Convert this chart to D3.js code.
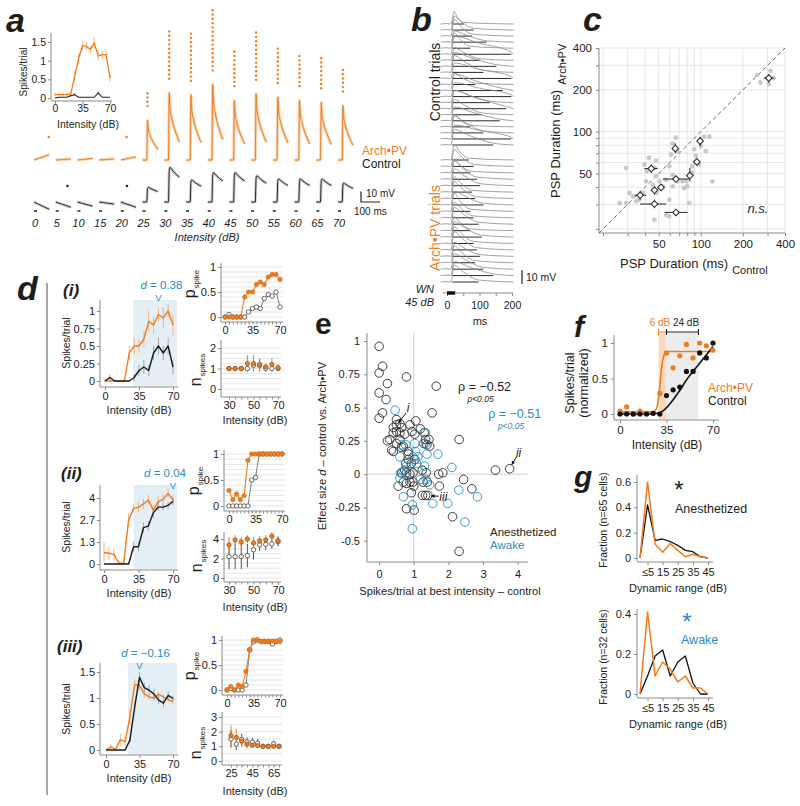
<!DOCTYPE html>
<html><head><meta charset="utf-8">
<script src="https://cdn.jsdelivr.net/npm/d3@7/dist/d3.min.js"></script>
<style>html,body{margin:0;padding:0;background:#fff;}svg{display:block;}</style>
</head><body>
<script>
// ===================== DATA =====================
// ---- Panel a ----
const aIntensity = [0,5,10,15,20,25,30,35,40,45,50,55,60,65,70];
const aInsetArch    = [0.09,0.09,0.09,0.09,0.10,0.58,1.05,1.40,1.38,1.30,1.47,1.12,1.16,1.16,0.54];
const aInsetArchErr = [0.05,0.05,0.05,0.05,0.05,0.15,0.15,0.12,0.10,0.10,0.15,0.12,0.12,0.10,0.10];
const aInsetCtrl    = [0.00,0.02,0.02,0.02,0.06,0.09,0.02,0.02,0.02,0.02,0.02,0.14,0.02,0.02,0.02];
const aInsetCtrlErr = [0,0,0,0,0.03,0.04,0,0,0,0,0,0.05,0,0,0];
const aTplTime = [0,22,26,30,38,50,62,72,80];            // ms
const aTplArch = [0,0,1,0.78,0.64,0.5,0.4,0.32,0.27];
const aTplCtrl = [0,0,0.9,1,0.95,0.87,0.8,0.75,0.72];
const aTplSub  = [0,0.28,0.33,0.38,0.48,0.62,0.77,0.9,1];
const aArchAmp = [5,1,1.5,1,3,38,64,62,72,57,63,60,57,55,52];   // mV
const aCtrlAmp = [-7,-5,-4,-2,-5,14,33,21,28,28,25,22,22,22,18];
const aArchSpikes = [0,0,0,0,0,4,12,12,15,9,12,9,8,8,6];
const aArchStray = [[0,78],[20,30]];
const aCtrlStray = [[5,62],[20,32]];
const aInsetYTicks = [0,0.5,1,1.5];
const aInsetXTicks = [0,35,70];

// ---- Panel b ----
const bCtrlDur = [40,70,65,110,60,195,90,140,100,190,75,160,195,120,170,95,150,60,100,195,130];
const bCtrlAmp = [9,10,12,8,11,13,9,10,12,11,8,12,10,9,13,11,10,9,12,10,11];
const bArchDur = [55,70,60,80,90,65,75,100,60,70,85,60,95,70,80,90,75,100,130,85];
const bArchAmp = [11,12,10,13,12,11,12,10,13,11,12,10,11,12,13,10,12,11,10,12];
const bTicks = [0,50,100,150,200];
const bTickLabels = ["0","","100","","200"];
const bStim = [0,25];

// ---- Panel c ----
const cDotX = [253,267,315,306,332,29.3,42.5,47.8,39.5,41,46.6,47.8,40.6,45.3,50.5,56.4,62.9,66.4,62.9,68.2,61.2,59.5,53.4,68.2,74,79,87,87,92,97,89.6,100,108.5,115,105.6,121,80,82.6,30.9,32.7,36.4,38.5,26.3,29.3,34.5,46.6,56.4,59.5,62.9,76,47.8,59.5];
const cDotY = [255,226,274,220,243,55,65,62,58,52,55,47.9,44,41.6,44,45,49,90.5,82,72.5,68.6,56.5,40.5,44,44,44,50.5,56.5,67,58,74.7,78.8,72.5,92,92,44,40.5,30.7,36.3,34.3,32.5,36.3,30.7,30.7,31.6,23.3,25.3,24.6,40.5,39.4,36.3,32.5];
const cDiamX   = [306,65.7,98.9,44.2,93.7,83.5,66.4,51.9,46.6,36.8,46.6,66.4];
const cDiamY   = [243,75.8,85.6,54.3,60.7,48.4,45.7,39.8,37.9,34.9,30.2,26.3];
const cDiamXlo = [282,63,96,39.5,91,78.2,53.4,50,45,33.6,36.8,55.2];
const cDiamXhi = [332,68,102,49.2,96,88.2,82.6,54,48,40.6,56.4,80.5];
const cDiamYlo = [226,69.8,78.8,50.6,58,44,44,38.5,35.3,32.5,28.2,24.9];
const cDiamYhi = [260,82.4,92,58,63,55,47.5,41,40.5,37.3,32.5,27.4];
const cGrid = [20,30,40,50,60,70,80,90,100,200,300,400];
const cTickLabels = [50,100,200,400];

// ---- Panel d ----
const dIntensity = [0,5,10,15,20,25,30,35,40,45,50,55,60,65,70];
const d1Arch    = [0,0,0,0,0,0.4,0.5,0.5,0.6,0.85,0.8,0.95,0.9,1.0,0.8];
const d1ArchErr = [0,0,0,0,0,0.1,0.12,0.1,0.12,0.15,0.12,0.1,0.15,0.1,0.15];
const d1Ctrl    = [0,0.05,0,0,0,0,0.05,0.15,0.2,0.15,0.4,0.5,0.4,0.5,0.2];
const d1CtrlErr = [0.02,0.04,0,0,0,0,0.05,0.08,0.1,0.08,0.1,0.12,0.1,0.12,0.1];
const d1PArch = [0,0,0,0,0,0.4,0.5,0.5,0.65,0.7,0.65,0.8,0.85,0.85,0.75];
const d1PCtrl = [0,0.05,0,0,0,0,0.1,0.17,0.2,0.17,0.37,0.45,0.42,0.5,0.2];
const d1NInt = [30,35,40,45,50,55,60,65,70];
const d1NArch    = [1,1,1,1.24,1.24,1.2,1.08,1.2,1.05];
const d1NArchErr = [0,0,0,0.4,0.4,0.3,0.15,0.3,0.15];
const d1NCtrl    = [1,1,1,1,1.15,1.15,1,1,1];
const d1NCtrlErr = [0,0,0,0.1,0.3,0.3,0.15,0.15,0.1];

const d2Arch    = [0.7,0.65,0.6,0.05,0.05,2.67,3.37,3.44,3.64,3.88,3.27,3.78,3.92,4.28,3.88];
const d2ArchErr = [0.6,0.4,0.4,0.1,0.1,0.4,0.3,0.3,0.3,0.3,0.3,0.3,0.3,0.3,0.3];
const d2Ctrl    = [0,0,0,0,0,0,1.05,1.05,2.2,2.3,3.1,3.45,3.45,3.55,3.8];
const d2CtrlErr = [0,0,0,0,0,0,0.3,0.3,0.3,0.3,0.3,0.2,0.2,0.2,0.2];
const d2PArch = [0.3,0.12,0.23,0.12,0.2,0.88,1,1,1,1,1,1,1,1,1];
const d2PCtrl = [0,0,0,0,0,0,0.5,0.55,1,1,1,1,1,1,1];
const d2NInt = [30,35,40,45,50,55,60,65,70];
const d2NArch    = [3.4,3.9,3.7,4.0,3.6,3.8,3.9,4.3,3.8];
const d2NArchErr = [0.8,0.5,0.5,0.4,0.6,0.5,0.5,0.4,0.5];
const d2NCtrl    = [2.2,2.2,2.2,2.3,2.9,3.4,3.45,3.5,3.75];
const d2NCtrlErr = [1.3,1.3,1.3,1.2,1.0,0.6,0.6,0.5,0.5];

const d3Arch    = [0,0.06,0.01,0.2,0.16,0.64,1.26,1.24,1.08,1.02,1.0,1.07,1.02,0.97,0.93];
const d3ArchErr = [0,0.05,0,0.12,0.1,0.15,0.1,0.1,0.08,0.06,0.05,0.05,0.05,0.05,0.05];
const d3Ctrl    = [0,0,0,0,0,0.19,0.83,1.4,1.2,1.15,1.08,0.96,0.9,1.05,0.99];
const d3CtrlErr = [0,0,0,0,0,0.05,0.1,0.1,0.1,0.1,0.1,0.08,0.08,0.08,0.05];
const d3PArch = [0,0.07,0,0.1,0.07,0.37,0.81,1,1,0.97,0.98,0.98,0.98,0.98,0.97];
const d3PCtrl = [0,0.03,0,0,0,0.1,0.8,0.97,1,0.97,0.97,0.97,0.92,0.97,1];
const d3NInt = [25,30,35,40,45,50,55,60,65,70];
const d3NArch    = [1.73,1.6,1.35,1.15,1.08,1.05,1.0,1.0,1.0,1.0];
const d3NArchErr = [0.7,0.6,0.4,0.3,0.2,0.1,0.05,0.05,0.05,0.05];
const d3NCtrl    = [1.5,1.15,1.47,1.3,1.28,1.22,1.0,1.0,1.18,1.0];
const d3NCtrlErr = [0.6,0.4,0.4,0.3,0.3,0.3,0.1,0.1,0.2,0.1];

const dTags = ["(i)","(ii)","(iii)"];
const dBest = [55,70,35];
const dEffect = ["0.38","0.04","\u22120.16"];
const dShadeFrom = [29,30,23];
const dMainYTicks = [[0,0.25,0.5,0.75,1],[0,1.333,2.667,4],[0,0.5,1,1.5]];
const dMainYLabels = [["0","0.25","0.5","0.75","1"],["0","1.3","2.7","4"],["0","0.5","1","1.5"]];
const dPGrid = [0,0.1,0.2,0.3,0.4,0.5,0.6,0.7,0.8,0.9,1];
const dNYTicks = [[0,1,2],[0,2,4],[0,1,2,3]];
const dNGrid = [[0,0.25,0.5,0.75,1,1.25,1.5,1.75,2],[0,0.5,1,1.5,2,2.5,3,3.5,4],[0,0.5,1,1.5,2,2.5,3]];
const dNXLabels = [[30,50,70],[30,50,70],[25,45,65]];

// ---- Panel e ----
const eAnesX = [0,0.1,0,0.24,0.79,0,0.2,0.1,0,1.65,1.53,0.5,0.5,0.6,0.41,0.65,0.5,0.41,0.6,0.74,0.31,0.24,0.6,0.5,0.36,0.65,0.41,0.7,0.89,1.06,0.95,1.03,1.19,1.3,1.34,1.44,1.29,1.46,1.38,0.84,0.84,0.84,0.77,0.93,1.03,0.74,0.65,0.79,0.89,0.98,0.7,0.89,0.98,0.79,0.55,1.0,1.25,1.27,1.36,1.39,1.25,1.34,1.41,0.93,0.79,1.01,1.72,1.84,2.31,1.74,2.44,2.68,2.12,2.31,3.36,3.77];
const eAnesY = [0.96,0.81,0.76,0.68,0.73,0.61,0.56,0.46,0.42,0.66,0.46,0.41,0.37,0.38,0.35,0.35,0.32,0.31,0.31,0.3,0.26,0.25,0.26,0.23,0.18,0.2,0.17,0.21,0.37,0.4,0.32,0.3,0.34,0.31,0.26,0.26,0.23,0.21,0.22,0.17,0.15,0.11,0.08,0.08,0.11,0.03,0.01,0.01,0,0.01,-0.06,-0.06,-0.06,-0.07,-0.09,-0.09,0.03,-0.06,0.01,-0.06,-0.16,-0.16,-0.16,-0.14,-0.26,-0.27,0,0.01,0.26,-0.09,-0.04,-0.11,-0.32,-0.58,0.03,0.04];
const eAwakeX = [0.46,0.65,0.6,0.6,0.7,0.96,0.96,1.03,1.06,0.98,1.08,1.12,1.34,1.34,1.38,1.31,1.36,1.46,1.55,1.7,2.1,1.98,2.3,2.48,2.84,0.7,0.79,1.12,1.19,0.77,0.62];
const eAwakeY = [0.48,0.22,0.13,-0.03,-0.17,-0.23,-0.41,0.23,0.17,0.13,0.08,0.13,0.23,0.31,0.15,0.06,-0.04,-0.08,-0.22,0.15,0.05,-0.22,-0.12,-0.36,-0.17,0.02,0.06,0.05,-0.04,0.22,0.01];
const eYTicks = [1,0.75,0.5,0.25,0,-0.25,-0.5];
const eYLabels = ["1","0.75","0.5","0.25","0","-0.25","-0.5"];
const eXTicks = [0,1,2,3,4];
const eRho = ["\u03C1 = \u22120.52","\u03C1 = \u22120.51"];

// ---- Panel f ----
const fInt  = [0,5,10,15,20,25,30,35,40,45,50,55,60,65,70];
const fArch = [0.04,0.1,0.0,0.04,0.01,0.01,0.29,0.86,0.65,0.82,0.98,0.79,1.0,0.96,0.9];
const fCtrl = [0,0,0,0,0,0.01,0,0.26,0.34,0.38,0.6,0.6,0.86,0.79,1.0];
const fFitArchX = [0,24,26,27,28,29,30,31,32,33,34,36,40,70];
const fFitArchY = [0.03,0.03,0.04,0.06,0.11,0.22,0.4,0.6,0.74,0.82,0.86,0.88,0.88,0.88];
const fFitCtrlX = [0,25,28,31,34,37,40,43,46,49,52,55,58,61,64,67,70];
const fFitCtrlY = [0,0,0.01,0.03,0.07,0.13,0.2,0.28,0.36,0.45,0.53,0.6,0.67,0.74,0.81,0.88,0.95];
const fArchRange = [29,35];
const fCtrlRange = [35,59];

// ---- Panel g ----
const gBins = [0,5,10,15,20,25,30,35,40,45];
const gAnesCtrl  = [0,0.42,0.14,0.15,0.13,0.1,0.06,0.05,0.01,0];
const gAnesArch  = [0,0.6,0.11,0.045,0.115,0.06,0.01,0.03,0.01,0];
const gAwakeCtrl = [0,0.09,0.19,0.22,0.09,0.16,0.19,0.055,0,0];
const gAwakeArch = [0,0.41,0.09,0.16,0.125,0.06,0.09,0.03,0.03,0];
const gXTicks = [5,15,25,35,45];
const gXLabels = ["\u22645","15","25","35","45"];

// ===================== DRAWING =====================
const FONT = "'Liberation Sans', Arial, Helvetica, sans-serif";
const ORANGE = "#f07c1e", ORANGE_L = "#f6b27c", BLUE = "#2c8cc2", AX = "#8a8a8a", GRID = "#e6e6e6", TXT = "#1d1d1b";
const svg = d3.select("body").append("svg").attr("width",800).attr("height",806).style("font-family",FONT);

function text(x,y,s,o={}){
  const t = svg.append("text").attr("x",x).attr("y",y).text(s)
    .attr("font-size",o.size||11).attr("fill",o.fill||TXT).attr("text-anchor",o.anchor||"start");
  if(o.italic) t.attr("font-style","italic");
  if(o.bold) t.attr("font-weight","bold");
  if(o.rotate) t.attr("transform",`rotate(-90,${x},${y})`);
  return t;
}
function drawAxis(orient, scale, pos, ext, vals, labels, o={}){
  const ax = (orient==="left"?d3.axisLeft:d3.axisBottom)(scale).tickValues(vals)
    .tickSize(o.tick||3).tickSizeOuter(0).tickPadding(o.pad==null?2:o.pad)
    .tickFormat((d,i)=> labels ? (labels[i]==null?"":labels[i]) : "");
  const g = svg.append("g").attr("transform", orient==="left"?`translate(${pos},0)`:`translate(0,${pos})`).call(ax);
  g.select(".domain").remove();
  if(orient==="left") g.append("line").attr("y1",ext[0]).attr("y2",ext[1]).attr("stroke",AX);
  else g.append("line").attr("x1",ext[0]).attr("x2",ext[1]).attr("stroke",AX);
  g.selectAll(".tick line").attr("stroke",AX);
  g.selectAll(".tick text").attr("font-family",FONT).attr("font-size",o.size||11).attr("fill",TXT)
    .attr("font-style",o.italic?"italic":null);
  return g;
}
function linePath(xs, ys, sx, sy, stroke, width, curve){
  return svg.append("path").datum(xs.map((x,i)=>[x,ys[i]]))
    .attr("d", d3.line().x(d=>sx(d[0])).y(d=>sy(d[1])).curve(curve||d3.curveLinear))
    .attr("fill","none").attr("stroke",stroke).attr("stroke-width",width||1).attr("stroke-linejoin","round");
}
function errBars(xs, ys, es, sx, sy, color, w){
  svg.append("g").selectAll("line").data(xs.map((x,i)=>[x,ys[i],es[i]]).filter(d=>d[2]>0)).enter().append("line")
    .attr("x1",d=>sx(d[0])).attr("x2",d=>sx(d[0])).attr("y1",d=>sy(d[1]-d[2])).attr("y2",d=>sy(d[1]+d[2]))
    .attr("stroke",color).attr("stroke-width",w||1);
}
function dots(xs, ys, sx, sy, r, fill, stroke, sw){
  svg.append("g").selectAll("circle").data(xs.map((x,i)=>[x,ys[i]])).enter().append("circle")
    .attr("cx",d=>sx(d[0])).attr("cy",d=>sy(d[1])).attr("r",r)
    .attr("fill",fill).attr("stroke",stroke||"none").attr("stroke-width",sw||1);
}
function subLabel(x,y,main,sub,size,subSize){
  const t = svg.append("text").attr("transform",`translate(${x},${y}) rotate(-90)`).attr("text-anchor","middle").attr("fill",TXT);
  t.append("tspan").attr("font-size",size).text(main);
  t.append("tspan").attr("font-size",subSize).attr("dy",size*0.22).attr("dx",1).text(sub);
  return t;
}

// ---------- Panel labels ----------
text(6,32,"a",{size:34,bold:true,italic:true});
text(411,31,"b",{size:34,bold:true,italic:true});
text(583,31,"c",{size:34,bold:true,italic:true});
text(17,300,"d",{size:34,bold:true,italic:true});
text(315,334,"e",{size:30,bold:true});
text(574,337,"f",{size:30,bold:true,italic:true});
text(574,487,"g",{size:30,bold:true,italic:true});

// ---------- Panel a : inset ----------
{
  const x = d3.scaleLinear().domain([0,70]).range([55,110]);
  const y = d3.scaleLinear().domain([0,1.5]).range([98,42]);
  drawAxis("left",y,51,[33,100],aInsetYTicks,["0","0.5","1","1.5"],{size:10.5});
  drawAxis("bottom",x,101,[51,112],aInsetXTicks,["0","35","70"],{size:10.5,pad:1});
  errBars(aIntensity,aInsetArch,aInsetArchErr,x,y,ORANGE_L,1);
  errBars(aIntensity,aInsetCtrl,aInsetCtrlErr,x,y,"#aaa",1);
  linePath(aIntensity,aInsetArch,x,y,ORANGE,1.3);
  linePath(aIntensity,aInsetCtrl,x,y,"#222",1.1);
  text(27,72,"Spikes/trial",{size:10,anchor:"middle",rotate:true});
  text(88,128,"Intensity (dB)",{size:10.5,anchor:"middle"});
}
// ---------- Panel a : traces ----------
{
  const x = d3.scaleLinear().domain([0,70]).range([35,339]);
  const t = d3.scaleLinear().domain([0,100]).range([0,19]);
  const v = d3.scaleLinear().domain([0,10]).range([0,-10.5]);
  const archBase = 160, ctrlBase = 202;
  const ln = d3.line().curve(d3.curveMonotoneX);
  aIntensity.forEach((db,i)=>{
    const x0 = x(db)-1;
    const sub = db < 25;
    const tA = sub ? aTplSub : aTplArch, tC = sub ? aTplSub : aTplCtrl;
    const pA = aTplTime.map((tt,k)=>[x0+t(tt), archBase+v(aArchAmp[i]*tA[k])]);
    const pC = aTplTime.map((tt,k)=>[x0+t(tt), ctrlBase+v(aCtrlAmp[i]*tC[k])]);
    svg.append("path").attr("d",ln(pA)).attr("fill","none").attr("stroke","#fbd3b1").attr("stroke-width",3);
    svg.append("path").attr("d",ln(pA)).attr("fill","none").attr("stroke",ORANGE).attr("stroke-width",1);
    svg.append("path").attr("d",ln(pC)).attr("fill","none").attr("stroke","#cfcfcf").attr("stroke-width",3);
    svg.append("path").attr("d",ln(pC)).attr("fill","none").attr("stroke","#222").attr("stroke-width",1);
    const px = x0 + t(26), py = archBase + v(aArchAmp[i]);
    svg.append("g").selectAll("circle").data(d3.range(aArchSpikes[i])).enter().append("circle")
      .attr("cx",px).attr("cy",k=>py-14-k*4.3).attr("r",1.2).attr("fill",ORANGE);
    svg.append("line").attr("x1",x(db)-1).attr("x2",x(db)+2).attr("y1",211).attr("y2",211).attr("stroke","#222").attr("stroke-width",1.5);
    text(x(db),227,String(db),{size:11,italic:true,anchor:"middle"});
  });
  aArchStray.forEach(s=>svg.append("circle").attr("cx",x(s[0])-1+t(s[1])).attr("cy",archBase-23).attr("r",1.3).attr("fill",ORANGE));
  aCtrlStray.forEach(s=>svg.append("circle").attr("cx",x(s[0])-1+t(s[1])).attr("cy",ctrlBase-16).attr("r",1.3).attr("fill","#222"));
  text(207,241,"Intensity (dB)",{size:11,italic:true,anchor:"middle"});
  text(362,155,"Arch\u2022PV",{size:12,fill:ORANGE});
  text(362,168,"Control",{size:12});
  svg.append("path").attr("d",`M361,${202+v(10)}V202H${361+t(100)}`).attr("fill","none").attr("stroke","#222").attr("stroke-width",1.2);
  text(366,197,"10 mV",{size:10});
  text(354,215,"100 ms",{size:10});
}

// ---------- Panel b ----------
{
  const x = d3.scaleLinear().domain([0,200]).range([447,512]);
  const v = d3.scaleLinear().domain([0,10]).range([0,-14]);
  const yC = d3.scaleLinear().domain([0,bCtrlDur.length-1]).range([24,145]);
  const yA = d3.scaleLinear().domain([0,bArchDur.length-1]).range([160,282]);
  const ln = d3.line().x(d=>x(d[0])).curve(d3.curveMonotoneX);
  function trial(base, dur, amp){
    const end = Math.min(12+dur,198);
    const pts = [[-20,0],[0,0.3],[12,0],[22,amp],[12+dur*0.45,amp*0.6],[end,amp*0.12],[205,0]];
    svg.append("path").attr("d",ln.y(d=>base+v(d[1]))(pts)).attr("fill","none").attr("stroke","#8c8c8c").attr("stroke-width",0.8);
    svg.append("line").attr("x1",x(16)).attr("x2",x(end)).attr("y1",base).attr("y2",base).attr("stroke","#2a2a2a").attr("stroke-width",1);
  }
  bCtrlDur.forEach((d,i)=>trial(yC(i),d,bCtrlAmp[i]));
  bArchDur.forEach((d,i)=>trial(yA(i),d,bArchAmp[i]));
  text(440,82,"Control trials",{size:14,anchor:"middle",rotate:true});
  text(440,228,"Arch\u2022PV trials",{size:14,anchor:"middle",rotate:true,fill:ORANGE});
  svg.append("line").attr("x1",522).attr("x2",522).attr("y1",284).attr("y2",284+v(10)).attr("stroke","#222").attr("stroke-width",1.2);
  text(526,281,"10 mV",{size:10.5});
  drawAxis("bottom",x,293,[443,513],bTicks,bTickLabels,{size:10.5,pad:6,tick:3});
  svg.append("line").attr("x1",x(bStim[0])).attr("x2",x(bStim[1])).attr("y1",293).attr("y2",293).attr("stroke","#111").attr("stroke-width",3.5);
  text(434,293,"WN",{size:11,italic:true,anchor:"end"});
  text(434,306,"45 dB",{size:11,italic:true,anchor:"end"});
  text(480,325,"ms",{size:11,anchor:"middle"});
}

// ---------- Panel c ----------
{
  const x = d3.scaleLog().domain([18.7,400]).range([599,785]);
  const y = d3.scaleLog().domain([18.7,400]).range([233,48]);
  const g = svg.append("g");
  g.selectAll("line.v").data(cGrid).enter().append("line").attr("x1",d=>x(d)).attr("x2",d=>x(d)).attr("y1",48).attr("y2",233).attr("stroke",GRID);
  g.selectAll("line.h").data(cGrid).enter().append("line").attr("y1",d=>y(d)).attr("y2",d=>y(d)).attr("x1",599).attr("x2",785).attr("stroke",GRID);
  const lab = cGrid.map(d=>cTickLabels.includes(d)?String(d):"");
  drawAxis("left",y,599,[48,233],cGrid,lab,{size:11.5,tick:3,pad:4});
  drawAxis("bottom",x,233,[599,785],cGrid,lab,{size:11.5,tick:3,pad:4});
  svg.append("line").attr("x1",x(18.7)).attr("y1",y(18.7)).attr("x2",x(400)).attr("y2",y(400))
    .attr("stroke","#666").attr("stroke-dasharray","4,3").attr("stroke-width",1);
  dots(cDotX,cDotY,x,y,2.4,"#c9c9c9");
  const eg = svg.append("g");
  cDiamX.forEach((d,i)=>{
    eg.append("line").attr("x1",x(cDiamXlo[i])).attr("x2",x(cDiamXhi[i])).attr("y1",y(cDiamY[i])).attr("y2",y(cDiamY[i])).attr("stroke","#222");
    eg.append("line").attr("y1",y(cDiamYlo[i])).attr("y2",y(cDiamYhi[i])).attr("x1",x(d)).attr("x2",x(d)).attr("stroke","#222");
  });
  svg.append("g").selectAll("path").data(cDiamX.map((d,i)=>[d,cDiamY[i]])).enter().append("path")
    .attr("d",d3.symbol().type(d3.symbolSquare).size(22))
    .attr("transform",d=>`translate(${x(d[0])},${y(d[1])}) rotate(45)`)
    .attr("fill","#fff").attr("stroke","#222").attr("stroke-width",1);
  text(758,213,"n.s.",{size:13,italic:true,anchor:"middle"});
  const yl = svg.append("text").attr("transform","translate(560,198) rotate(-90)").attr("fill",TXT);
  yl.append("tspan").attr("font-size",13).text("PSP Duration (ms)");
  yl.append("tspan").attr("font-size",11).attr("dx",5).attr("dy",6).text("Arch\u2022PV");
  const xl = svg.append("text").attr("transform","translate(620,268)").attr("fill",TXT);
  xl.append("tspan").attr("font-size",13).text("PSP Duration (ms)");
  xl.append("tspan").attr("font-size",11).attr("dx",4).attr("dy",6).text("Control");
}

// ---------- Panel d ----------
svg.append("line").attr("x1",47).attr("x2",47).attr("y1",283).attr("y2",795).attr("stroke","#777").attr("stroke-width",1.3);
{
  const main = [
    {arch:d1Arch,archErr:d1ArchErr,ctrl:d1Ctrl,ctrlErr:d1CtrlErr},
    {arch:d2Arch,archErr:d2ArchErr,ctrl:d2Ctrl,ctrlErr:d2CtrlErr},
    {arch:d3Arch,archErr:d3ArchErr,ctrl:d3Ctrl,ctrlErr:d3CtrlErr}];
  const pData = [[d1PArch,d1PCtrl],[d2PArch,d2PCtrl],[d3PArch,d3PCtrl]];
  const nData = [
    {x:d1NInt,a:d1NArch,ae:d1NArchErr,c:d1NCtrl,ce:d1NCtrlErr},
    {x:d2NInt,a:d2NArch,ae:d2NArchErr,c:d2NCtrl,ce:d2NCtrlErr},
    {x:d3NInt,a:d3NArch,ae:d3NArchErr,c:d3NCtrl,ce:d3NCtrlErr}];
  const LM = [
    {xr:[105,173], y0:381, y1:311, axY:387, top:300, tagY:296, dY:289, vY:301, labY:343, tagX:63},
    {xr:[104,173], y0:564, y1:498, axY:570, top:485, tagY:479, dY:477, vY:489, labY:527, tagX:61},
    {xr:[106,173], y0:750, y1:672, axY:755, top:663, tagY:652, dY:657, vY:669, labY:709, tagX:57}];
  const dXOff = [3,-8,6];
  const LP = [
    {ax:221, y0:317, y1:267, axY:322, xr:[225,280], lab:[195,284]},
    {ax:224, y0:506, y1:454, axY:511, xr:[229,282], lab:[199,481]},
    {ax:222, y0:690, y1:640, axY:695, xr:[227,280], lab:[195,666]}];
  const LN = [
    {ax:221, y0:389, y1:348, yTop:340, axY:397, xr:[229,278], lab:[201,370], iy:424},
    {ax:224, y0:578, y1:539, yTop:532, axY:582, xr:[229,278], lab:[202,556], iy:611},
    {ax:222, y0:761, y1:717, yTop:712, axY:765, xr:[231,279], lab:[201,743], iy:795}];
  const yTopVal = [1.0,4,1.5];
  for(let r=0;r<3;r++){
    const L = LM[r], D = main[r];
    const x = d3.scaleLinear().domain([0,70]).range(L.xr);
    const y = d3.scaleLinear().domain([0,yTopVal[r]]).range([L.y0, L.y1]);
    svg.append("rect").attr("x",x(dShadeFrom[r])).attr("y",L.top).attr("width",177-x(dShadeFrom[r])).attr("height",L.axY-L.top-1).attr("fill","#e3eef5");
    drawAxis("left",y,100,[L.top,L.axY],dMainYTicks[r],dMainYLabels[r],{size:11,pad:2});
    drawAxis("bottom",x,L.axY,[100,178],[0,35,70],["0","35","70"],{size:11,pad:2});
    errBars(dIntensity,D.arch,D.archErr,x,y,ORANGE_L,1);
    errBars(dIntensity,D.ctrl,D.ctrlErr,x,y,"#a5a5a5",1);
    linePath(dIntensity,D.arch,x,y,ORANGE,1.4);
    linePath(dIntensity,D.ctrl,x,y,"#1a1a1a",1.4);
    text(70,L.labY,"Spikes/trial",{size:10.5,anchor:"middle",rotate:true});
    text(139,L.axY+27,"Intensity (dB)",{size:11,anchor:"middle"});
    text(L.tagX,L.tagY,dTags[r],{size:17,bold:true,italic:true});
    const dt = svg.append("text").attr("x",x(dBest[r])+dXOff[r]).attr("y",L.dY).attr("text-anchor","middle").attr("font-size",11.5).attr("fill",BLUE);
    dt.append("tspan").attr("font-style","italic").text("d");
    dt.append("tspan").text(" = "+dEffect[r]);
    text(x(dBest[r]),L.vY,"V",{size:9.5,fill:BLUE,anchor:"middle"});

    // p_spike
    const P = LP[r];
    const px = d3.scaleLinear().domain([0,70]).range(P.xr);
    const py = d3.scaleLinear().domain([0,1]).range([P.y0,P.y1]);
    svg.append("g").selectAll("line").data(dPGrid).enter().append("line")
      .attr("x1",P.ax).attr("x2",P.xr[1]+3).attr("y1",d=>py(d)).attr("y2",d=>py(d)).attr("stroke",GRID);
    drawAxis("left",py,P.ax,[P.y1-4,P.axY],[0,0.5,1],["0","0.5","1"],{size:11,pad:2});
    drawAxis("bottom",px,P.axY,[P.ax,P.xr[1]+3],dIntensity,dIntensity.map(d=>[0,35,70].includes(d)?String(d):""),{size:11,pad:2,tick:2.5});
    linePath(dIntensity,pData[r][1],px,py,"#6d6d6d",0.9);
    linePath(dIntensity,pData[r][0],px,py,ORANGE,1.1);
    dots(dIntensity,pData[r][1],px,py,2.2,"#fff","#555",0.9);
    dots(dIntensity,pData[r][0],px,py,2.2,ORANGE,"#d8660f",0.5);
    subLabel(P.lab[0],P.lab[1],"p","spike",16,8);

    // n_spikes
    const N = LN[r], ND = nData[r];
    const top = dNYTicks[r][dNYTicks[r].length-1];
    const nx = d3.scaleLinear().domain([ND.x[0],70]).range(N.xr);
    const ny = d3.scaleLinear().domain([0,top]).range([N.y0, N.y1]);
    svg.append("g").selectAll("line").data(dNGrid[r]).enter().append("line")
      .attr("x1",N.ax).attr("x2",N.xr[1]+3).attr("y1",d=>ny(d)).attr("y2",d=>ny(d)).attr("stroke",GRID);
    drawAxis("left",ny,N.ax,[N.yTop,N.axY],dNYTicks[r],dNYTicks[r].map(String),{size:11,pad:2});
    drawAxis("bottom",nx,N.axY,[N.ax,N.xr[1]+3],ND.x,ND.x.map(d=>dNXLabels[r].includes(d)?String(d):""),{size:11,pad:2,tick:2.5});
    errBars(ND.x,ND.c,ND.ce,nx,ny,"#555",1);
    errBars(ND.x,ND.a,ND.ae,nx,ny,ORANGE,1);
    dots(ND.x,ND.c,nx,ny,2.2,"#fff","#555",0.9);
    dots(ND.x,ND.a,nx,ny,2.2,ORANGE,"#8a4510",0.6);
    subLabel(N.lab[0],N.lab[1],"n","spikes",16,8);
    text(255,N.iy,"Intensity (dB)",{size:11,anchor:"middle"});
  }
}

// ---------- Panel e ----------
{
  const x = d3.scaleLinear().domain([-0.35,4.3]).range([367,528]);
  const y = d3.scaleLinear().domain([-0.66,1.06]).range([562,333]);
  svg.append("line").attr("x1",x(1)).attr("x2",x(1)).attr("y1",333).attr("y2",562).attr("stroke","#cfcfcf");
  svg.append("line").attr("x1",367).attr("x2",528).attr("y1",y(0)).attr("y2",y(0)).attr("stroke","#cfcfcf");
  drawAxis("left",y,367,[333,562],eYTicks,eYLabels,{size:11,pad:4,tick:3});
  drawAxis("bottom",x,562,[367,528],eXTicks,eXTicks.map(String),{size:11,pad:5,tick:3});
  dots(eAnesX,eAnesY,x,y,4.3,"none","#2b2b2b",0.9);
  dots(eAwakeX,eAwakeY,x,y,4.3,"none",BLUE,0.9);
  const arrow = (x1,y1,x2,y2)=>{
    svg.append("line").attr("x1",x1).attr("y1",y1).attr("x2",x2).attr("y2",y2).attr("stroke","#111").attr("stroke-width",1);
    const a = Math.atan2(y2-y1,x2-x1), s=4;
    const p = [[x2,y2],[x2-s*Math.cos(a-0.5),y2-s*Math.sin(a-0.5)],[x2-s*Math.cos(a+0.5),y2-s*Math.sin(a+0.5)]];
    svg.append("path").attr("d","M"+p.join("L")+"Z").attr("fill","#111");
  };
  arrow(x(0.78),y(0.46),x(0.56),y(0.385)); text(x(0.8),y(0.47),"i",{size:12,italic:true});
  arrow(x(3.97),y(0.13),x(3.83),y(0.07)); text(x(3.95),y(0.13),"ii",{size:12,italic:true});
  arrow(x(1.72),y(-0.165),x(1.5),y(-0.165)); text(x(1.74),y(-0.2),"iii",{size:12,italic:true});
  text(x(2.28),y(0.625),eRho[0],{size:12.5});
  text(x(2.55),y(0.54),"p<0.05",{size:8.5,italic:true});
  text(x(3.15),y(0.425),eRho[1],{size:12.5,fill:BLUE});
  text(x(3.43),y(0.34),"p<0.05",{size:8.5,italic:true,fill:BLUE});
  text(490,536,"Anesthetized",{size:11.5});
  text(490,549,"Awake",{size:11.5,fill:BLUE});
  const yl = svg.append("text").attr("transform","translate(326,446) rotate(-90)").attr("text-anchor","middle").attr("font-size",11.2).attr("fill",TXT);
  yl.append("tspan").text("Effect size ");
  yl.append("tspan").attr("font-style","italic").text("d");
  yl.append("tspan").text(" \u2013 control vs. Arch\u2022PV");
  text(450,595,"Spikes/trial at best intensity \u2013 control",{size:11.2,anchor:"middle"});
}

// ---------- Panel f ----------
{
  const x = d3.scaleLinear().domain([0,70]).range([620,713]);
  const y = d3.scaleLinear().domain([0,1]).range([414,343]);
  svg.append("rect").attr("x",x(fArchRange[0])).attr("y",333).attr("width",x(fArchRange[1])-x(fArchRange[0])).attr("height",86).attr("fill","#fcd9bd");
  svg.append("rect").attr("x",x(fCtrlRange[0])).attr("y",333).attr("width",x(fCtrlRange[1])-x(fCtrlRange[0])).attr("height",86).attr("fill","#ececec");
  drawAxis("left",y,614,[335,420],[0,0.5,1],["0","0.5","1"],{size:11.5,pad:3});
  drawAxis("bottom",x,420,[614,719],[0,35,70],["0","35","70"],{size:11.5,pad:3});
  const br = (r,c)=>{ svg.append("path").attr("d",`M${x(r[0])},329V335M${x(r[0])},332H${x(r[1])}M${x(r[1])},329V335`).attr("stroke",c).attr("stroke-width",1.1).attr("fill","none"); };
  br(fArchRange,ORANGE); br(fCtrlRange,"#222");
  text(660,326,"6 dB",{size:10,fill:ORANGE,anchor:"middle"});
  text(686,326,"24 dB",{size:10,anchor:"middle"});
  linePath(fFitArchX,fFitArchY,x,y,ORANGE,1.6,d3.curveMonotoneX);
  linePath(fFitCtrlX,fFitCtrlY,x,y,"#111",1.6,d3.curveMonotoneX);
  dots(fInt,fArch,x,y,2.6,ORANGE);
  dots(fInt,fCtrl,x,y,2.6,"#111");
  text(708,392,"Arch\u2022PV",{size:12,fill:ORANGE});
  text(708,405,"Control",{size:12});
  text(574,383,"Spikes/trial",{size:12.5,anchor:"middle",rotate:true});
  text(588,383,"(normalized)",{size:12.5,anchor:"middle",rotate:true});
  text(667,449,"Intensity (dB)",{size:12,anchor:"middle"});
}

// ---------- Panel g ----------
{
  const x = d3.scaleLinear().domain([0,45]).range([640,708]);
  const y1 = d3.scaleLinear().domain([0,0.6]).range([558,482]);
  const y2 = d3.scaleLinear().domain([0,0.4]).range([694,614]);
  drawAxis("left",y1,637,[475,561],[0,0.2,0.4,0.6],["0","0.2","0.4","0.6"],{size:11,pad:3});
  drawAxis("bottom",x,562,[637,713],gXTicks,gXLabels,{size:11,pad:3});
  linePath(gBins,gAnesCtrl,x,y1,"#111",1.3);
  linePath(gBins,gAnesArch,x,y1,ORANGE,1.5);
  drawAxis("left",y2,637,[609,697],[0,0.2,0.4],["0","0.2","0.4"],{size:11,pad:3});
  drawAxis("bottom",x,698,[637,713],gXTicks,gXLabels,{size:11,pad:3});
  linePath(gBins,gAwakeCtrl,x,y2,"#111",1.3);
  linePath(gBins,gAwakeArch,x,y2,ORANGE,1.5);
  text(679,498,"*",{size:24,anchor:"middle"});
  text(675,513,"Anesthetized",{size:12.5});
  text(687,630,"*",{size:24,anchor:"middle",fill:BLUE});
  text(681,644,"Awake",{size:12.5,fill:BLUE});
  text(607,520,"Fraction (n=65 cells)",{size:10.5,anchor:"middle",rotate:true});
  text(607,657,"Fraction (n=32 cells)",{size:10.5,anchor:"middle",rotate:true});
  text(678,592,"Dynamic range (dB)",{size:11,anchor:"middle"});
  text(678,728,"Dynamic range (dB)",{size:11,anchor:"middle"});
}
</script>
</body></html>
